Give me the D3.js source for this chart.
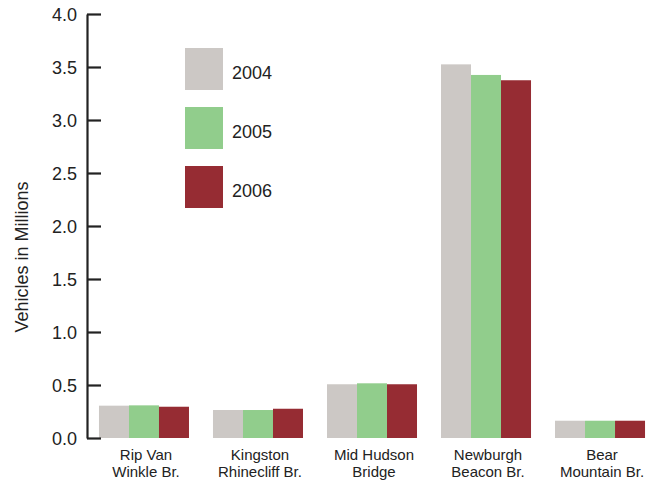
<!DOCTYPE html>
<html>
<head>
<meta charset="utf-8">
<script src="https://cdn.jsdelivr.net/npm/d3@7"></script>
<style>
  html, body { margin: 0; padding: 0; background: #fff; }
  text { font-family: "Liberation Sans", Arial, sans-serif; fill: #222; }
</style>
</head>
<body>
<svg id="chart" width="651" height="480"></svg>
<script>
const categories = [["Rip Van", "Winkle Br."], ["Kingston", "Rhinecliff Br."], ["Mid Hudson", "Bridge"], ["Newburgh", "Beacon Br."], ["Bear", "Mountain Br."]];
const seriesNames = ["2004", "2005", "2006"];
const values2004 = [0.305, 0.264, 0.507, 3.525, 0.163];
const values2005 = [0.308, 0.264, 0.516, 3.425, 0.163];
const values2006 = [0.295, 0.276, 0.507, 3.375, 0.163];
const yTicks = [0, 0.5, 1, 1.5, 2, 2.5, 3, 3.5, 4];
const colors = ["#ccc8c5", "#91cd8c", "#962c33"];
const series = [values2004, values2005, values2006];

const svg = d3.select("#chart");
const catKeys = categories.map(c => c.join(" "));

const x = d3.scaleBand().domain(catKeys).range([87, 657]).paddingInner(0.2105).paddingOuter(0.105);
const xs = d3.scaleBand().domain(seriesNames).range([0, x.bandwidth()]).padding(0);
const y = d3.scaleLinear().domain([0, 4]).range([438, 14]);

// bars
seriesNames.forEach((s, si) => {
  svg.append("g").selectAll("rect").data(series[si]).join("rect")
    .attr("x", (d, i) => x(catKeys[i]) + xs(s))
    .attr("y", d => y(d))
    .attr("width", xs.bandwidth())
    .attr("height", d => y(0) - y(d))
    .attr("fill", colors[si]);
});

// y axis
const yAxis = d3.axisLeft(y).tickValues(yTicks).tickFormat(d3.format(".1f"))
  .tickSizeInner(-14).tickSizeOuter(0).tickPadding(10);
const gy = svg.append("g").attr("transform", "translate(87,0)").call(yAxis);
gy.select(".domain").attr("stroke", "#222").attr("stroke-width", 2.2);
gy.selectAll(".tick line").attr("stroke", "#222").attr("stroke-width", 2.2);
gy.selectAll(".tick text").attr("font-size", 18).attr("fill", "#222")
  .attr("font-family", "'Liberation Sans', Arial, sans-serif").attr("dy", "0.36em");

// y title
svg.append("text")
  .attr("transform", "translate(28,257) rotate(-90)")
  .attr("text-anchor", "middle")
  .attr("font-size", 18)
  .text("Vehicles in Millions");

// category labels
const lab = svg.append("g").selectAll("text").data(categories).join("text")
  .attr("text-anchor", "middle")
  .attr("font-size", 15)
  .attr("x", (d, i) => x(catKeys[i]) + x.bandwidth() / 2 + 2);
lab.append("tspan").attr("x", function() { return this.parentNode.getAttribute("x"); })
  .attr("y", 460).text(d => d[0]);
lab.append("tspan").attr("x", function() { return this.parentNode.getAttribute("x"); })
  .attr("y", 477).text(d => d[1]);

// legend
const legend = svg.append("g").selectAll("g").data(seriesNames).join("g")
  .attr("transform", (d, i) => `translate(185,${48 + i * 59})`);
legend.append("rect").attr("width", 38).attr("height", 42).attr("fill", (d, i) => colors[i]);
legend.append("text").attr("x", 47).attr("y", 31).attr("font-size", 18).text(d => d);
</script>
</body>
</html>
